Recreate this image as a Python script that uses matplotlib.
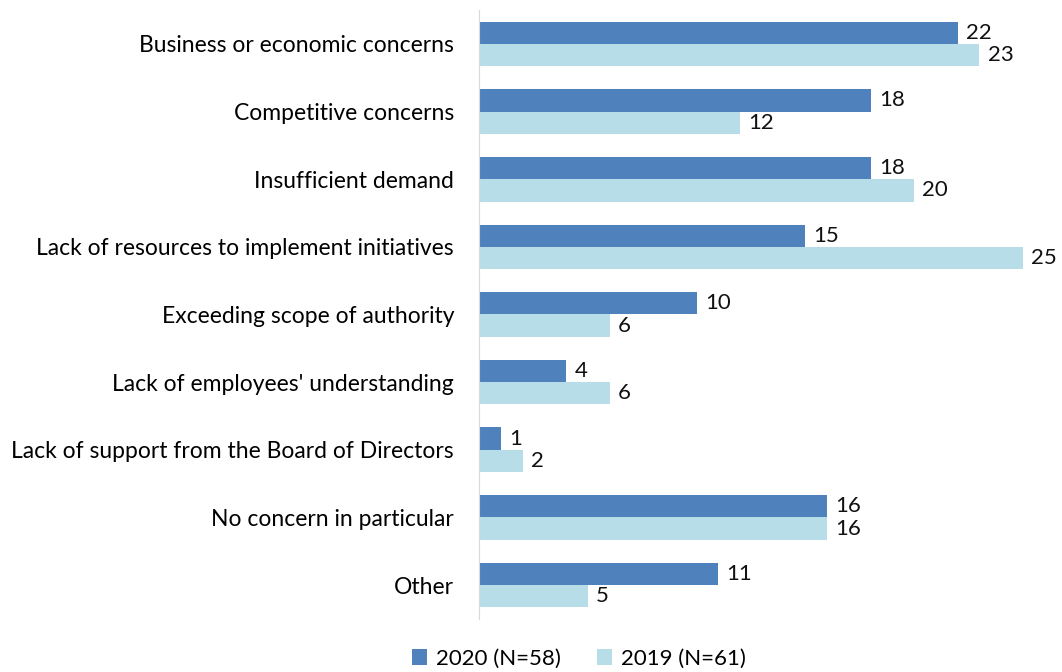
import numpy as np
import matplotlib.pyplot as plt

plt.rcParams['font.family'] = ['Lato', 'DejaVu Sans']

categories = ['Business or economic concerns', 'Competitive concerns', 'Insufficient demand',
              'Lack of resources to implement initiatives', 'Exceeding scope of authority',
              "Lack of employees' understanding", 'Lack of support from the Board of Directors',
              'No concern in particular', 'Other']
v2020 = [22, 18, 18, 15, 10, 4, 1, 16, 11]
v2019 = [23, 12, 20, 25, 6, 6, 2, 16, 5]

fig = plt.figure(figsize=(10.62, 6.72), dpi=100)
ax = fig.add_axes([479 / 1062, 0.079, 583 / 1062, 0.906])

y = np.arange(len(categories))
h = 0.33
b1 = ax.barh(y - h / 2, v2020, height=h, color='#4F81BD', label='2020 (N=58)')
b2 = ax.barh(y + h / 2, v2019, height=h, color='#B7DEE8', label='2019 (N=61)')
ax.bar_label(b1, padding=6, fontsize=16, color='#111111')
ax.bar_label(b2, padding=6, fontsize=16, color='#111111')

ax.set_yticks(y)
ax.set_yticklabels(categories, fontsize=16.5)
ax.set_ylim(len(categories) - 0.5, -0.5)
ax.set_xlim(0, 26.8)
ax.set_xticks([])
ax.tick_params(axis='y', length=0, pad=18)
for s in ['top', 'right', 'bottom']:
    ax.spines[s].set_visible(False)
ax.spines['left'].set_color('#D9D9D9')

fig.legend(handles=[b1, b2], loc='lower center', bbox_to_anchor=(0.545, -0.025), ncol=2,
           frameon=False, fontsize=16, handlelength=0.7, handleheight=0.7, columnspacing=1.6,
           handletextpad=0.4)

fig.savefig('out.png')
